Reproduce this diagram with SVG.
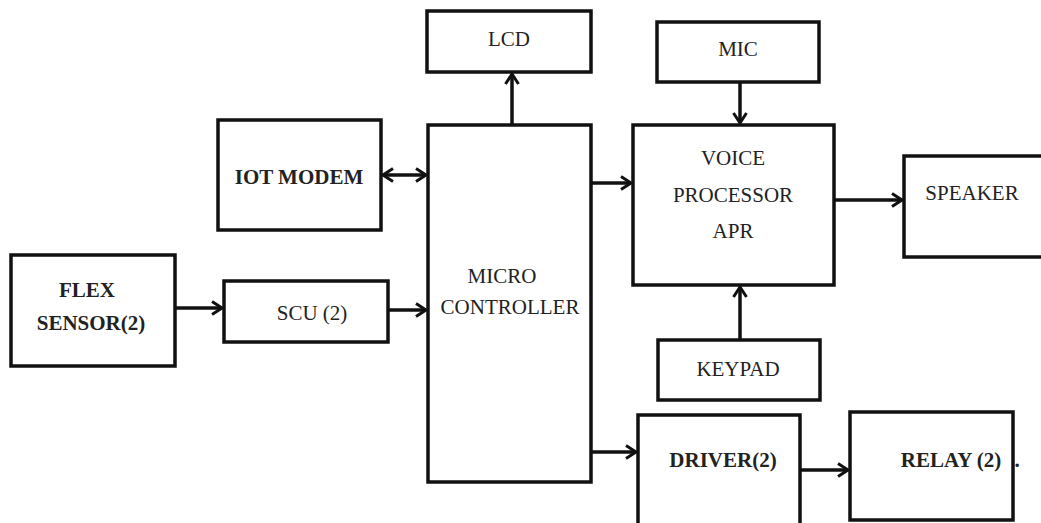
<svg xmlns="http://www.w3.org/2000/svg" width="1041" height="523" viewBox="0 0 1041 523">
<style>
.box{fill:#fff;stroke:#111;stroke-width:3.5}
.t{font-family:'Liberation Serif','Times New Roman','DejaVu Serif',serif;font-size:21px;fill:#222;text-anchor:middle}
.b{font-weight:bold}
.c{fill:none;stroke:#111;stroke-width:3.5}
</style>
<defs>
<marker id="ah" viewBox="0 0 16 16" refX="13" refY="8" markerWidth="16" markerHeight="16" markerUnits="userSpaceOnUse" orient="auto-start-reverse">
<path d="M3,1.5 L13,8 L3,14.5" fill="none" stroke="#111" stroke-width="3"/>
</marker>
</defs>
<rect width="1041" height="523" fill="#fff"/>
<g id="connectors">
<line class="c" x1="383" y1="175" x2="426" y2="175" marker-start="url(#ah)" marker-end="url(#ah)"/>
<line class="c" x1="175" y1="308" x2="222" y2="308" marker-end="url(#ah)"/>
<line class="c" x1="388" y1="310" x2="426" y2="310" marker-end="url(#ah)"/>
<line class="c" x1="512" y1="125" x2="512" y2="74" marker-end="url(#ah)"/>
<line class="c" x1="740" y1="82" x2="740" y2="123" marker-end="url(#ah)"/>
<line class="c" x1="591" y1="183" x2="631" y2="183" marker-end="url(#ah)"/>
<line class="c" x1="834" y1="200" x2="902" y2="200" marker-end="url(#ah)"/>
<line class="c" x1="740" y1="340" x2="740" y2="287" marker-end="url(#ah)"/>
<line class="c" x1="591" y1="452" x2="636" y2="452" marker-end="url(#ah)"/>
<line class="c" x1="800" y1="470" x2="848" y2="470" marker-end="url(#ah)"/>
</g>
<g id="lcd"><rect class="box" x="427" y="11" width="164" height="61"/><text class="t" x="509" y="46" font-family="Liberation Serif">LCD</text></g>
<g id="mic"><rect class="box" x="657" y="22" width="162" height="60"/><text class="t" x="738" y="56">MIC</text></g>
<g id="iot"><rect class="box" x="218" y="120" width="163" height="110"/><text class="t b" x="299" y="184">IOT MODEM</text></g>
<g id="micro"><rect class="box" x="428" y="125" width="163" height="357"/><text class="t" x="502" y="283">MICRO</text><text class="t" x="510" y="314">CONTROLLER</text></g>
<g id="voice"><rect class="box" x="633" y="125" width="201" height="160"/><text class="t" x="733" y="165">VOICE</text><text class="t" x="733" y="202">PROCESSOR</text><text class="t" x="733" y="238">APR</text></g>
<g id="speaker"><rect class="box" x="904" y="156" width="140" height="101"/><text class="t" x="972" y="200">SPEAKER</text></g>
<g id="flex"><rect class="box" x="11" y="255" width="164" height="111"/><text class="t b" x="87" y="297">FLEX</text><text class="t b" x="91" y="330">SENSOR(2)</text></g>
<g id="scu"><rect class="box" x="224" y="281" width="164" height="61"/><text class="t" x="312" y="320">SCU (2)</text></g>
<g id="keypad"><rect class="box" x="658" y="340" width="162" height="60"/><text class="t" x="738" y="376">KEYPAD</text></g>
<g id="driver"><rect class="box" x="638" y="415" width="162" height="115"/><text class="t b" x="723" y="467">DRIVER(2)</text></g>
<g id="relay"><rect class="box" x="850" y="412" width="163" height="108"/><text class="t b" x="951" y="467">RELAY (2)</text><text class="t b" x="1017" y="467">.</text></g>
</svg>
